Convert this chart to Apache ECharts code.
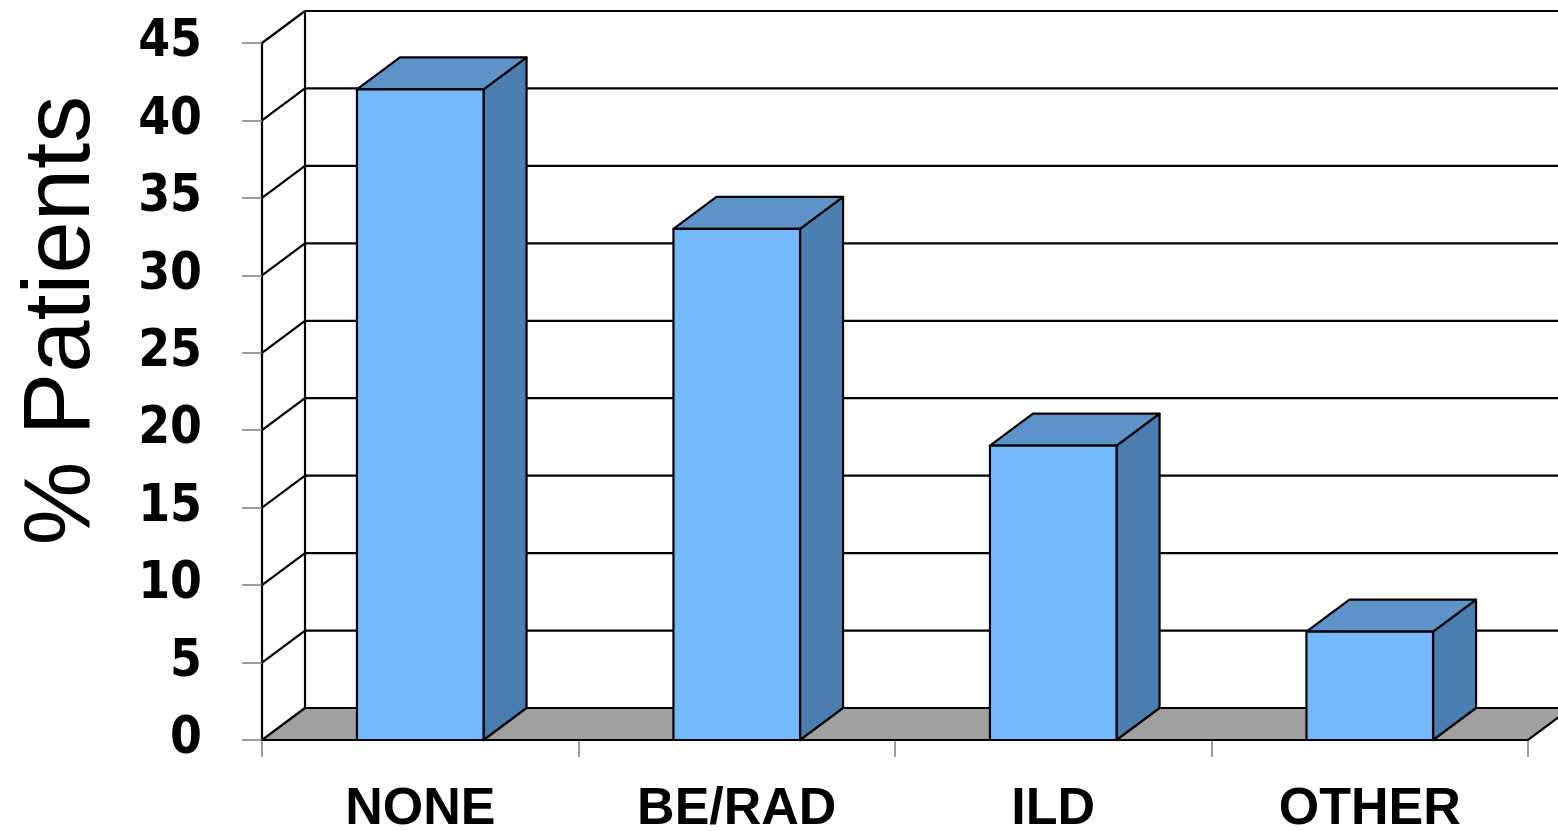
<!DOCTYPE html>
<html>
<head>
<meta charset="utf-8">
<script src="https://cdn.jsdelivr.net/npm/echarts@6/dist/echarts.min.js"></script>
<style>
  html, body { margin: 0; padding: 0; background: #ffffff; }
  #chart { width: 1558px; height: 831px; }
</style>
</head>
<body>
<div id="chart"></div>
<script>
// Chart data
const categories = ['NONE', 'BE/RAD', 'ILD', 'OTHER'];
const patientPct = [42, 33, 19, 7];
const yTicks = [0, 5, 10, 15, 20, 25, 30, 35, 40, 45];

// 3D look: offset of the back plane from the front plane (pixels)
const DX = 43;
const DY = 32;
const BAR_RATIO = 0.4;

const FRONT = '#74b8fd';
const TOP = '#5e93ca';
const SIDE = '#4a7eb1';
const FLOOR = '#a0a0a0';
const LINE = '#000000';
const LW = 2.2;

const chart = echarts.init(document.getElementById('chart'), null, { renderer: 'canvas' });

function bandEdges(api, v) {
  const bw = api.size([1, 0])[0];
  const first = api.coord([0, v]);
  const last = api.coord([categories.length - 1, v]);
  return { left: first[0] - bw / 2, right: last[0] + bw / 2, y: first[1], bw: bw };
}

const option = {
  animation: false,
  backgroundColor: '#ffffff',
  grid: { left: 262, right: 30, top: 43, bottom: 91, containLabel: false, outerBoundsMode: 'none' },
  xAxis: {
    type: 'category',
    data: categories,
    boundaryGap: true,
    axisLine: { show: true, lineStyle: { color: LINE, width: LW } },
    axisTick: { show: true, interval: 0, length: 17, lineStyle: { color: '#7f7f7f', width: 1.5 } },
    axisLabel: {
      interval: 0, margin: 44,
      fontFamily: 'Liberation Sans', fontWeight: 'bold', fontSize: 52, color: '#000'
    },
    splitLine: { show: false }
  },
  yAxis: {
    type: 'value',
    min: 0, max: 45, interval: 5,
    name: '% Patients',
    nameLocation: 'middle',
    nameRotate: 90,
    nameGap: 152,
    nameTextStyle: {
      fontFamily: 'Liberation Sans', fontSize: 94, color: '#000',
      padding: [0, 0, 0, 142]
    },
    axisLine: { show: true, lineStyle: { color: LINE, width: LW } },
    axisTick: { show: true, length: 20, lineStyle: { color: '#7f7f7f', width: 1.5 } },
    axisLabel: {
      margin: 60,
      fontFamily: "'DejaVu Sans Condensed', 'DejaVu Sans'", fontWeight: 'bold', fontSize: 51, color: '#000'
    },
    splitLine: { show: false }
  },
  series: [
    {
      // floor of the plot box
      type: 'custom',
      z: 1,
      silent: true,
      data: [[0, 0]],
      encode: { x: 0, y: 1 },
      renderItem: function (params, api) {
        const e = bandEdges(api, 0);
        return {
          type: 'group',
          children: [
            {
              type: 'polygon',
              shape: { points: [[e.left, e.y], [e.right, e.y], [e.right + DX, e.y - DY], [e.left + DX, e.y - DY]] },
              style: { fill: FLOOR, stroke: null }
            },
            {
              type: 'polyline',
              shape: { points: [[e.left, e.y], [e.right, e.y], [e.right + DX, e.y - DY]] },
              style: { stroke: LINE, lineWidth: LW, fill: null }
            }
          ]
        };
      }
    },
    {
      // side wall diagonals, back wall grid lines
      type: 'custom',
      z: 2,
      silent: true,
      data: yTicks.map(function (v) { return [0, v]; }),
      encode: { x: 0, y: 1 },
      renderItem: function (params, api) {
        const v = api.value(1);
        const e = bandEdges(api, v);
        const children = [
          {
            type: 'line',
            shape: { x1: e.left, y1: e.y, x2: e.left + DX, y2: e.y - DY },
            style: { stroke: LINE, lineWidth: LW }
          },
          {
            type: 'line',
            shape: { x1: e.left + DX, y1: e.y - DY, x2: e.right + DX, y2: e.y - DY },
            style: { stroke: LINE, lineWidth: LW }
          }
        ];
        if (v > 0) {
          const below = api.coord([0, v - 5]);
          children.push({
            type: 'line',
            shape: { x1: e.left + DX, y1: e.y - DY, x2: e.left + DX, y2: below[1] - DY },
            style: { stroke: LINE, lineWidth: LW }
          });
        }
        return { type: 'group', children: children };
      }
    },
    {
      // 3D bars
      type: 'custom',
      z: 3,
      data: patientPct.map(function (v, i) { return [i, v]; }),
      encode: { x: 0, y: 1 },
      renderItem: function (params, api) {
        const i = api.value(0);
        const v = api.value(1);
        const top = api.coord([i, v]);
        const base = api.coord([i, 0]);
        const w = api.size([1, 0])[0] * BAR_RATIO;
        const xl = top[0] - w / 2;
        const xr = top[0] + w / 2;
        const yt = top[1];
        const yb = base[1];
        const edge = { stroke: LINE, lineWidth: LW, lineJoin: 'round' };
        return {
          type: 'group',
          children: [
            {
              type: 'polygon',
              shape: { points: [[xr, yt], [xr + DX, yt - DY], [xr + DX, yb - DY], [xr, yb]] },
              style: Object.assign({ fill: SIDE }, edge)
            },
            {
              type: 'polygon',
              shape: { points: [[xl, yt], [xr, yt], [xr + DX, yt - DY], [xl + DX, yt - DY]] },
              style: Object.assign({ fill: TOP }, edge)
            },
            {
              type: 'rect',
              shape: { x: xl, y: yt, width: w, height: yb - yt },
              style: Object.assign({ fill: FRONT }, edge)
            }
          ]
        };
      }
    }
  ]
};

chart.setOption(option);
</script>
</body>
</html>
